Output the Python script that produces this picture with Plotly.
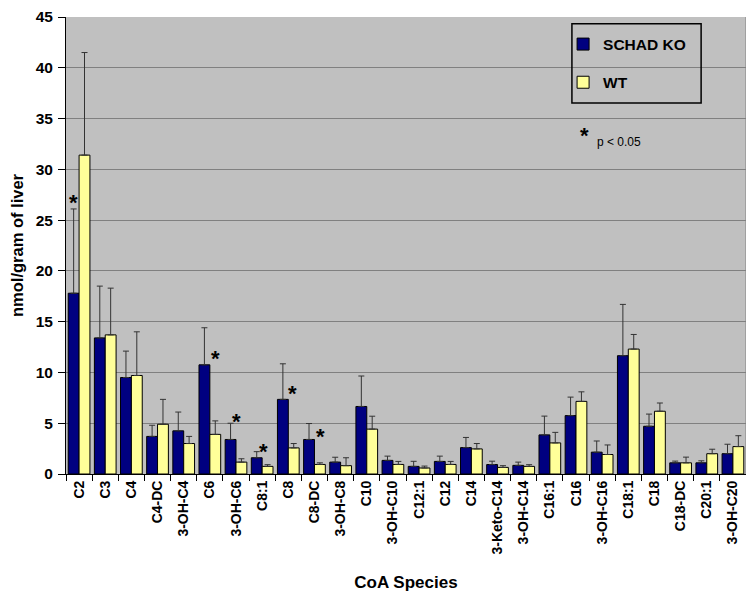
import plotly.graph_objects as go

# CoA species on the x axis
species = ["C2", "C3", "C4", "C4-DC", "3-OH-C4", "C6", "3-OH-C6", "C8:1", "C8",
           "C8-DC", "3-OH-C8", "C10", "3-OH-C10", "C12:1", "C12", "C14",
           "3-Keto-C14", "3-OH-C14", "C16:1", "C16", "3-OH-C16", "C18:1", "C18",
           "C18-DC", "C20:1", "3-OH-C20"]

# nmol/gram of liver, mean and upper error (SD)
ko_mean = [17.8, 13.4, 9.5, 3.7, 4.25, 10.75, 3.4, 1.6, 7.35, 3.4, 1.17, 6.65,
           1.34, 0.75, 1.24, 2.6, 0.93, 0.85, 3.85, 5.75, 2.15, 11.65, 4.7,
           1.1, 1.1, 2.0]
ko_sd = [8.3, 5.1, 2.6, 1.1, 1.85, 3.65, 1.6, 0.6, 3.5, 1.57, 0.48, 3.0,
         0.42, 0.5, 0.52, 1.0, 0.33, 0.32, 1.85, 1.82, 1.1, 5.05, 1.2,
         0.17, 0.2, 0.93]
wt_mean = [31.4, 13.7, 9.7, 4.9, 3.0, 3.9, 1.17, 0.75, 2.57, 0.94, 0.82, 4.42,
           0.94, 0.59, 0.94, 2.47, 0.65, 0.75, 3.06, 7.15, 1.92, 12.3, 6.18,
           1.1, 2.0, 2.7]
wt_sd = [10.1, 4.6, 4.3, 2.45, 0.7, 1.33, 0.33, 0.17, 0.43, 0.16, 0.78, 1.27,
         0.3, 0.19, 0.3, 0.53, 0.17, 0.17, 1.04, 0.94, 0.94, 1.44, 0.81,
         0.56, 0.44, 1.07]

# significance stars (p < 0.05): category, height of star, horizontal nudge in px
star_species = ["C2", "C6", "3-OH-C6", "C8:1", "C8", "C8-DC"]
star_y = [26.95, 11.57, 5.38, 2.38, 8.09, 3.87]
star_dx = [-6, 6, 0, 1, 4, 6]

FONT = "Liberation Sans, Arial, sans-serif"

fig = go.Figure()

fig.add_trace(go.Bar(
    x=species, y=ko_mean, name="<b>SCHAD KO</b>", legendgroup="ko",
    marker=dict(color="#000080", line=dict(color="black", width=1)),
    error_y=dict(type="data", array=ko_sd, arrayminus=[0] * len(ko_sd),
                 symmetric=False, color="#333333", thickness=1, width=3),
))
fig.add_trace(go.Bar(
    x=species, y=wt_mean, name="<b>WT</b>", legendgroup="wt",
    marker=dict(color="#FFFF99", line=dict(color="black", width=1)),
    error_y=dict(type="data", array=wt_sd, arrayminus=[0] * len(wt_sd),
                 symmetric=False, color="#333333", thickness=1, width=3),
))

for sp, yv, dx in zip(star_species, star_y, star_dx):
    fig.add_annotation(x=sp, y=yv, xref="x", yref="y", text="<b>*</b>",
                       showarrow=False, xshift=dx, yshift=-2,
                       xanchor="center", yanchor="middle",
                       font=dict(family=FONT, size=22, color="black"))

# p-value note
fig.add_annotation(x=0.762, y=0.746, xref="paper", yref="paper", text="<b>*</b>",
                   showarrow=False, yshift=-2, xanchor="center", yanchor="middle",
                   font=dict(family=FONT, size=22, color="black"))
fig.add_annotation(x=0.778, y=0.726, xref="paper", yref="paper", text="p &lt; 0.05",
                   showarrow=False, xanchor="left", yanchor="middle",
                   font=dict(family=FONT, size=12, color="black"))

# legend border box
fig.add_shape(type="rect", xref="paper", yref="paper",
              x0=0.744, x1=0.934, y0=0.812, y1=0.985,
              line=dict(color="black", width=1.5), fillcolor="rgba(0,0,0,0)")
# right frame line
fig.add_shape(type="line", xref="paper", yref="paper", x0=1, x1=1, y0=0, y1=1,
              line=dict(color="#808080", width=1))

# page body has an 8px margin, so the figure is sized to fit the window
fig.update_layout(
    width=746, height=585,
    barmode="group", bargap=0.17, bargroupgap=0,
    plot_bgcolor="#C0C0C0", paper_bgcolor="white",
    margin=dict(l=58, r=8, t=9, b=119),
    font=dict(family=FONT, color="black"),
    legend=dict(x=0.731, y=0.977, xanchor="left", yanchor="top",
                bgcolor="rgba(0,0,0,0)", borderwidth=0,
                traceorder="grouped", tracegroupgap=15,
                font=dict(family=FONT, size=15.5, color="black")),
    xaxis=dict(
        title=dict(text="<b>CoA Species</b>", font=dict(size=17), standoff=22),
        tickangle=-90, tickfont=dict(size=14, family=FONT),
        ticks="outside", tickson="boundaries", ticklen=6, tickcolor="black",
        showline=True, linecolor="black", linewidth=1, showgrid=False,
        automargin=False,
    ),
    yaxis=dict(
        title=dict(text="<b>nmol/gram of liver</b>", font=dict(size=16.5), standoff=12),
        range=[0, 45], dtick=5, tickfont=dict(size=15.5, family=FONT),
        ticks="outside", ticklen=7, tickcolor="black", ticklabelstandoff=2,
        ticklabeloverflow="allow",
        showline=True, linecolor="black", linewidth=1,
        showgrid=True, gridcolor="#808080", gridwidth=1, zeroline=False,
        automargin=False,
    ),
)
fig.update_xaxes(tickprefix="<b>", ticksuffix="</b>")
fig.update_yaxes(tickprefix="<b>", ticksuffix="</b>")

fig.write_html("out.html")
